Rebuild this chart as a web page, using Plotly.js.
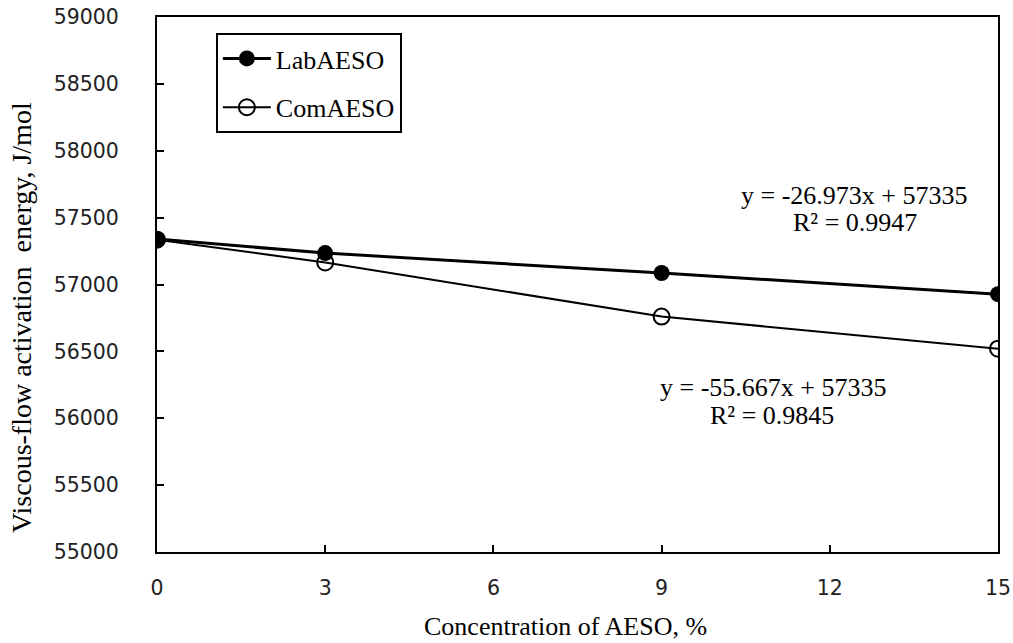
<!DOCTYPE html>
<html><head><meta charset="utf-8">
<script src="https://cdn.plot.ly/plotly-3.0.1.min.js"></script>
<style>body{margin:0;padding:0;background:#fff}#chart{width:1013px;height:643px}</style>
</head><body><div id="chart"></div>
<script>
const concentrations = [0, 3, 9, 15];
const labAESO = [57340, 57235, 57086, 56928];
const comAESO = [57335, 57165, 56760, 56520];
const xTicks = [0, 3, 6, 9, 12, 15];
const yTicks = [55000, 55500, 56000, 56500, 57000, 57500, 58000, 58500, 59000];
const eqLab = ["y = -26.973x + 57335", "R² = 0.9947"];
const eqCom = ["y = -55.667x + 57335", "R² = 0.9845"];
const yTitle = "Viscous-flow activation  energy, J/mol";
const xTitle = "Concentration of AESO, %";

const serif = "Liberation Serif, Times New Roman, serif";
const sans = "DejaVu Sans, sans-serif";

const traces = [
  {x: concentrations, y: labAESO, name: "LabAESO", legendgroup: "a", type: "scatter", mode: "lines+markers",
   line: {color: "#000", width: 3}, marker: {symbol: "circle", size: 16, color: "#000"}},
  {x: concentrations, y: comAESO, name: "ComAESO", legendgroup: "b", type: "scatter", mode: "lines+markers",
   line: {color: "#000", width: 2}, marker: {symbol: "circle-open", size: 16, color: "#000", line: {width: 2, color: "#000"}}}
];

const px = (x) => (x - 157) / (998 - 157);
const py = (y) => 1 - (y - 17) / (552 - 17);

const layout = {
  width: 1013, height: 643,
  margin: {l: 157, r: 15, t: 17, b: 91},
  paper_bgcolor: "#fff", plot_bgcolor: "#fff",
  showlegend: true,
  legend: {x: 0.07, y: 0.97, xanchor: "left", yanchor: "top", bordercolor: "#000", borderwidth: 2,
    font: {family: serif, size: 26, color: "#000"}, bgcolor: "#fff", traceorder: "grouped", tracegroupgap: 12, itemwidth: 48},
  xaxis: {range: [0, 15], tickvals: xTicks, ticktext: xTicks.map(String), ticks: "inside", ticklen: 7,
    tickcolor: "#000", tickwidth: 2, showline: true, linecolor: "#000", linewidth: 2, mirror: true,
    showgrid: false, zeroline: false, tickfont: {family: sans, size: 20.5, color: "#222"}, ticklabelstandoff: 16,
    title: {text: ""}},
  yaxis: {range: [55000, 59000], tickvals: yTicks, ticktext: yTicks.map(String), ticks: "inside", ticklen: 7,
    tickcolor: "#000", tickwidth: 2, showline: true, linecolor: "#000", linewidth: 2, mirror: true,
    showgrid: false, zeroline: false, tickfont: {family: sans, size: 20.5, color: "#222"}, ticklabelstandoff: 32,
    title: {text: ""}},
  annotations: [
    {x: 854, y: 195, text: eqLab[0]},
    {x: 855, y: 223, text: eqLab[1]},
    {x: 773, y: 387, text: eqCom[0]},
    {x: 772, y: 415, text: eqCom[1]}
  ].map(a => ({
    x: px(a.x), y: py(a.y), xref: "paper", yref: "paper",
    text: a.text, showarrow: false, xanchor: "center", yanchor: "middle",
    font: {family: serif, size: 26, color: "#000"}
  })).concat([
    {x: px(565), y: py(626), xref: "paper", yref: "paper", text: xTitle, showarrow: false,
     xanchor: "center", yanchor: "middle", font: {family: serif, size: 26, color: "#000"}},
    {x: px(21), y: py(318), xref: "paper", yref: "paper", text: yTitle, showarrow: false, textangle: -90,
     xanchor: "center", yanchor: "middle", font: {family: serif, size: 28, color: "#000"}}
  ])
};

Plotly.newPlot("chart", traces, layout, {displayModeBar: false});
</script></body></html>
